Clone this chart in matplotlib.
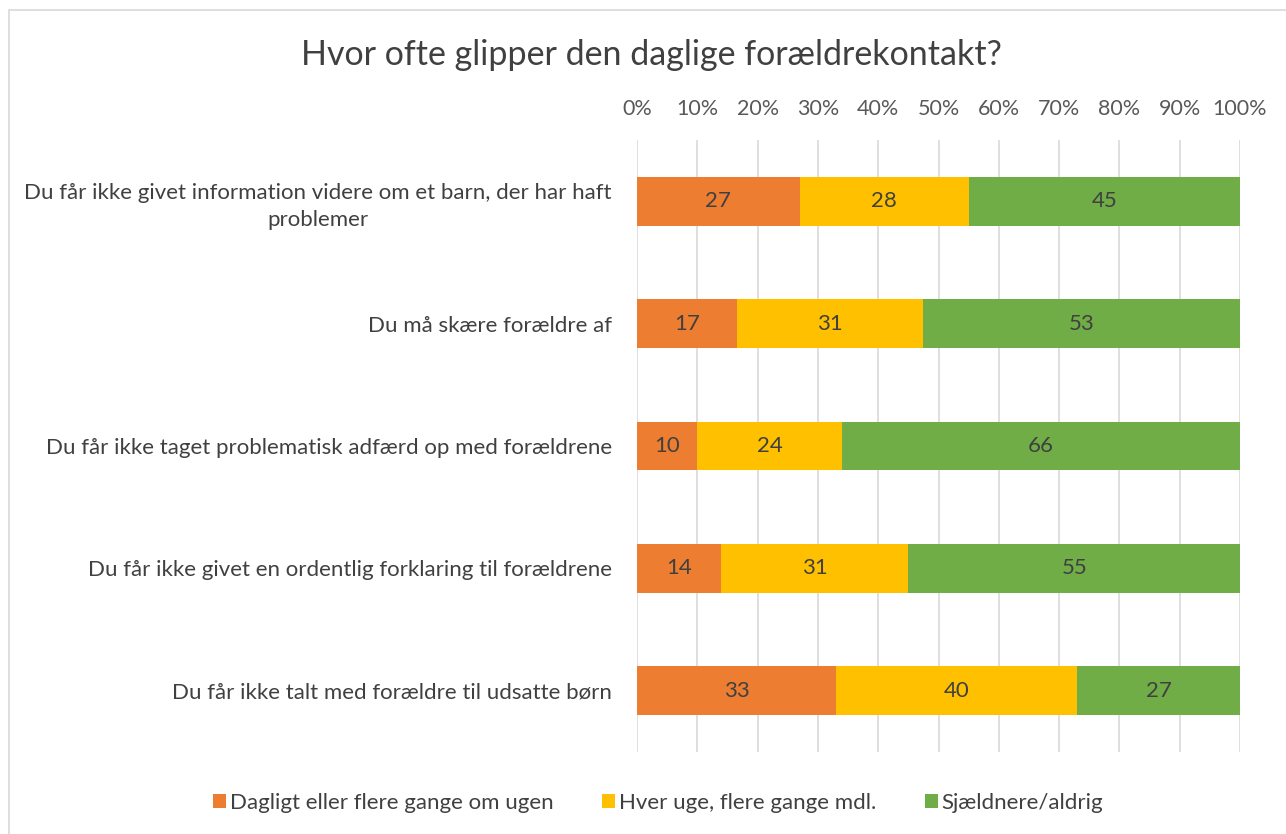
import matplotlib
matplotlib.use("Agg")
import matplotlib.pyplot as plt
from matplotlib.patches import Rectangle, Patch
import numpy as np

plt.rcParams['font.family'] = ['Lato', 'DejaVu Sans']

categories = [
    "Du får ikke givet information videre om et barn, der har haft\nproblemer",
    "Du må skære forældre af",
    "Du får ikke taget problematisk adfærd op med forældrene",
    "Du får ikke givet en ordentlig forklaring til forældrene",
    "Du får ikke talt med forældre til udsatte børn",
]
series_names = ["Dagligt eller flere gange om ugen", "Hver uge, flere gange mdl.", "Sjældnere/aldrig"]
daily = [27, 16.6, 10, 14, 33]
weekly = [28, 30.8, 24, 31, 40]
rarely = [45, 52.6, 66, 55, 27]
colors = ["#ED7D31", "#FFC000", "#70AD47"]
xticks = list(range(0, 101, 10))
title = "Hvor ofte glipper den daglige forældrekontakt?"

fig = plt.figure(figsize=(12.86, 8.34), dpi=100)
ax = fig.add_axes([637/1286, 1-752/834, (1240-637)/1286, (752-140)/834])

y = np.arange(len(categories))
left = np.zeros(len(categories))
for vals, col, name in zip([daily, weekly, rarely], colors, series_names):
    vals = np.array(vals, dtype=float)
    ax.barh(y, vals, left=left, height=0.4, color=col, label=name, zorder=3)
    for yi, l, v in zip(y, left, vals):
        ax.text(l + v/2, yi, f"{v:.0f}", ha='center', va='center', fontsize=16, color='#404040', zorder=4)
    left += vals

ax.set_xlim(0, 100)
ax.set_xticks(xticks)
ax.set_xticklabels([f"{t}%" for t in xticks])
ax.xaxis.tick_top()
ax.tick_params(axis='x', length=0, labelsize=15.5, labelcolor='#595959', pad=15)
ax.set_yticks(y)
ax.set_yticklabels(categories, multialignment='center', linespacing=1.45)
ax.tick_params(axis='y', length=0, labelsize=16, labelcolor='#404040', pad=18)
ax.grid(axis='x', color='#D9D9D9', linewidth=1.2, zorder=0)
for s in ax.spines.values():
    s.set_visible(False)
ax.set_ylim(len(categories)-0.5, -0.5)

fig.text(651/1286, 1-55/834, title, ha='center', va='center', fontsize=24.5, color='#404040')

handles = [Patch(facecolor=c, edgecolor='none') for c in colors]
fig.legend(handles, series_names, loc='center', bbox_to_anchor=(658/1286, 1-803/834), ncol=3,
           frameon=False, fontsize=16, handlelength=0.6, handleheight=0.6, handletextpad=0.15,
           columnspacing=2.2, labelcolor='#404040')

fig.patches.append(Rectangle((9/1286, -0.01), 1.0, 1-10/834+0.01, transform=fig.transFigure,
                             fill=False, edgecolor='#D9D9D9', linewidth=1.2))

fig.savefig("out.png", dpi=100, facecolor='white')
